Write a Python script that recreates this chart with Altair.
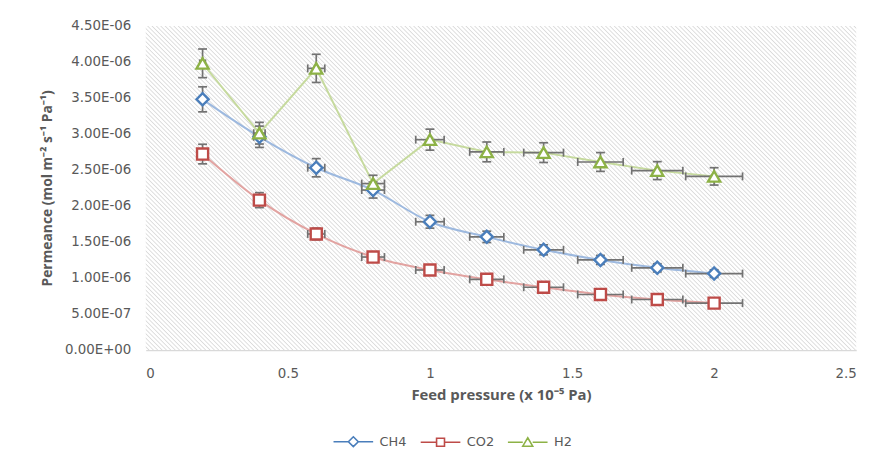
import altair as alt
import pandas as pd

# ---- data ----
X = [0.2, 0.4, 0.6, 0.8, 1.0, 1.2, 1.4, 1.6, 1.8, 2.0]
CH4 = [3.48, 2.96, 2.53, 2.22, 1.78, 1.57, 1.39, 1.25, 1.14, 1.06]   # x 1e-6
CO2 = [2.72, 2.08, 1.61, 1.29, 1.11, 0.98, 0.87, 0.77, 0.70, 0.65]   # x 1e-6
H2 = [3.98, 3.01, 3.91, 2.31, 2.92, 2.75, 2.74, 2.61, 2.49, 2.41]    # x 1e-6
SERIES = ["CH4", "CO2", "H2"]
ERR_FRAC = 0.05  # error bars of +/-5 % in x and y
X_TICKS = [0, 0.5, 1, 1.5, 2, 2.5]
Y_TICKS = [0, 0.5e-6, 1e-6, 1.5e-6, 2e-6, 2.5e-6, 3e-6, 3.5e-6, 4e-6, 4.5e-6]
X_DOMAIN = [0, 2.5]
Y_DOMAIN = [0, 4.5e-6]

# ---- styles ----
DARK = {"CH4": "#4A7EBB", "CO2": "#BE4B48", "H2": "#8DB246"}
LIGHT = {"CH4": "#9DB9DF", "CO2": "#E2A3A1", "H2": "#C6DA9E"}
SHAPE = {"CH4": "diamond", "CO2": "square", "H2": "triangle-up"}
SIZE = {"CH4": 150, "CO2": 125, "H2": 150}
INTERP = {"CH4": "monotone", "CO2": "monotone", "H2": "linear"}
LEGEND_PATH = {
    "CH4": "M-4,0L-1,0M1,0L4,0M0,-1L1,0L0,1L-1,0Z",
    "CO2": "M-4,0L-0.8,0M0.8,0L4,0M-0.8,-0.8L0.8,-0.8L0.8,0.8L-0.8,0.8Z",
    "H2": "M-4,0L-1,0M1,0L4,0M0,-0.9L1,0.8L-1,0.8Z",
}
EB = "#727272"
TXT = "#595959"
LFONT = "DejaVu Sans"
TFONT = "Open Sans"
W, H = 717, 327

rows = []
for name, vals in zip(SERIES, [CH4, CO2, H2]):
    for xv, yv in zip(X, vals):
        y = yv * 1e-6
        rows.append(dict(series=name, x=xv, y=y,
                         xlo=xv * (1 - ERR_FRAC), xhi=xv * (1 + ERR_FRAC),
                         ylo=y * (1 - ERR_FRAC), yhi=y * (1 + ERR_FRAC)))
df = pd.DataFrame(rows)
bg_df = pd.DataFrame([dict(x0=X_DOMAIN[0], x1=X_DOMAIN[1], y0=Y_DOMAIN[0], y1=Y_DOMAIN[1])])

# ---- hatched background as a striped linear gradient (45 deg stripes) ----
r = H / W
a = (1 + r) / (1 + r * r)          # gradient runs bottom-left -> top-right, t in [0,1]
x1g, y1g, x2g, y2g = 0, 1, a, 1 - a * r
dt_per_px = (a / W) / (a * a * (1 + r * r))
period_px = 4.4
T = period_px * dt_per_px
stops = []
t = 0.0
while t < 1.0:
    for off, col in [(0.0, "#ffffff"), (0.45, "#ffffff"), (0.73, "#dadada")]:
        o = t + off * T
        if o <= 1.0:
            stops.append({"offset": round(o, 6), "color": col})
    t += T
gradient = {"gradient": "linear", "x1": x1g, "y1": y1g, "x2": x2g, "y2": y2g, "stops": stops}

xscale = alt.Scale(domain=X_DOMAIN, nice=False, zero=False)
yscale = alt.Scale(domain=Y_DOMAIN, nice=False)

xaxis = alt.Axis(title="Feed pressure (x 10⁻⁵ Pa)", values=X_TICKS, format="~g", grid=False,
                 ticks=False, domainColor="#d9d9d9", domainWidth=1.5, labelPadding=17,
                 labelOverlap=False, labelColor=TXT, labelFont=LFONT, labelFontSize=13.5,
                 titleFont=TFONT, titleFontSize=15, titleFontWeight="bold", titleColor=TXT,
                 titlePadding=8)
yaxis = alt.Axis(title="Permeance (mol m⁻² s⁻¹ Pa⁻¹)", values=Y_TICKS,
                 labelExpr="replace(replace(upper(format(datum.value, '.2e')), 'E-', 'E-0'), 'E+', 'E+0')",
                 grid=False, ticks=False, domain=False, labelPadding=15, labelOverlap=False,
                 labelColor=TXT, labelFont=LFONT, labelFontSize=13.5, titleFont=TFONT,
                 titleFontSize=14, titleFontWeight="bold", titleColor=TXT, titlePadding=10)

XA = lambda f: alt.X(f, scale=xscale, axis=xaxis)
YA = lambda f: alt.Y(f, scale=yscale, axis=yaxis)

bg = alt.Chart(bg_df).mark_rect(fill=gradient).encode(
    x=XA("x0:Q"), x2="x1:Q", y=YA("y0:Q"), y2="y1:Q")

layers = [bg]
for s in SERIES:
    layers.append(
        alt.Chart(df).transform_filter(alt.datum.series == s)
        .mark_line(color=LIGHT[s], strokeWidth=2, interpolate=INTERP[s])
        .encode(x=XA("x:Q"), y=YA("y:Q"))
    )

vrule = alt.Chart(df).mark_rule(color=EB, strokeWidth=1.7).encode(
    x=XA("x:Q"), y=YA("ylo:Q"), y2="yhi:Q")
vcap = alt.Chart(df).transform_fold(["ylo", "yhi"], as_=["k", "v"]).mark_tick(
    orient="horizontal", color=EB, size=9, thickness=1.7, opacity=1).encode(
    x=XA("x:Q"), y=YA("v:Q"))
hrule = alt.Chart(df).mark_rule(color=EB, strokeWidth=1.7).encode(
    y=YA("y:Q"), x=XA("xlo:Q"), x2="xhi:Q")
hcap = alt.Chart(df).transform_fold(["xlo", "xhi"], as_=["k", "v"]).mark_tick(
    orient="vertical", color=EB, size=8, thickness=1.7, opacity=1).encode(
    x=XA("v:Q"), y=YA("y:Q"))
layers += [vrule, vcap, hrule, hcap]

for s in SERIES:
    layers.append(
        alt.Chart(df).transform_filter(alt.datum.series == s)
        .mark_point(shape=SHAPE[s], filled=True, fill="white", stroke=DARK[s],
                    strokeWidth=2.4, size=SIZE[s], opacity=1)
        .encode(x=XA("x:Q"), y=YA("y:Q"))
    )

leg = alt.Legend(title=None, orient="none", legendX=203, legendY=413, direction="horizontal",
                 symbolSize=100, symbolStrokeWidth=1.6, symbolFillColor="white",
                 symbolOpacity=1, labelOffset=20, columnPadding=10,
                 labelFont=LFONT, labelFontSize=13, labelColor=TXT)
legend_layer = alt.Chart(df).mark_point(opacity=0).encode(
    x=XA("x:Q"), y=YA("y:Q"),
    shape=alt.Shape("series:N", scale=alt.Scale(domain=SERIES, range=[LEGEND_PATH[s] for s in SERIES]), legend=leg),
    color=alt.Color("series:N", scale=alt.Scale(domain=SERIES, range=[DARK[s] for s in SERIES]), legend=leg),
)
layers.append(legend_layer)

chart = alt.layer(*layers).properties(
    width=W, height=H,
    autosize=alt.AutoSizeParams(type="none"),
    padding={"left": 139, "top": 16, "right": 24, "bottom": 104},
    background="white",
).configure_view(stroke=None).configure_axis(labelOverlap=False)

chart.save("out.html", embed_options={"renderer": "svg", "actions": False})
